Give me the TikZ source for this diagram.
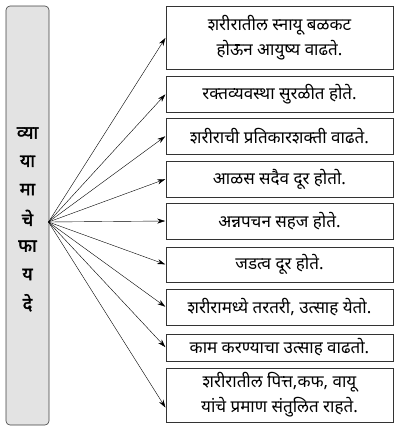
\documentclass[tikz,border=0pt]{standalone}
\usepackage{fontspec}
\newfontfamily\marathi[Script=Devanagari,Language=Marathi]{Noto Sans}
\newfontfamily\marathibold[Script=Devanagari,Language=Marathi,FakeBold=2]{Noto Sans}
\usepackage{tikz}
\usetikzlibrary{arrows.meta,positioning}

\begin{document}
\begin{tikzpicture}[
x=1pt, y=-1pt,
font=\marathi\fontsize{17}{21}\selectfont,
titlebox/.style={draw=black!75, semithick, rounded corners=4pt, fill=gray!22,
  minimum width=43pt, minimum height=419pt},
syllable/.style={font=\marathibold\fontsize{18}{20}\selectfont, inner sep=0pt},
benefit/.style={draw=black!80, semithick, minimum width=227pt, align=center,
  inner sep=1pt},
oneway/.style={-{Stealth[length=8pt,width=5pt]}, thin, shorten >=0.5pt}
]
    % Page size
    \useasboundingbox (0,0) rectangle (403,429);

    % Title column
    \node[titlebox] (title) at (27.5,215.5) {};
    \foreach \s [count=\i from 0] in {व्या,या,मा,चे,फा,य,दे}
        \node[syllable] (syl\i) at (27.5,133+28.3*\i) {\s};
    \coordinate (hub) at (48.5,222);

    % Benefit boxes
    \node[benefit, minimum height=63pt] (b1) at (279.5,37.5)
        {शरीरातील स्नायू बळकट\\[4pt]होऊन आयुष्य वाढते.};
    \node[benefit, minimum height=36pt] (b2) at (279.5,94)
        {रक्तव्यवस्था सुरळीत होते.};
    \node[benefit, minimum height=36pt] (b3) at (279.5,136)
        {शरीराची प्रतिकारशक्ती वाढते.};
    \node[benefit, minimum height=36pt] (b4) at (279.5,179)
        {आळस सदैव दूर होतो.};
    \node[benefit, minimum height=36pt] (b5) at (279.5,221)
        {अन्नपचन सहज होते.};
    \node[benefit, minimum height=35pt] (b6) at (279.5,264.5)
        {जडत्व दूर होते.};
    \node[benefit, minimum height=36pt] (b7) at (279.5,307)
        {शरीरामध्ये तरतरी, उत्साह येतो.};
    \node[benefit, minimum height=27pt] (b8) at (279.5,347.5)
        {काम करण्याचा उत्साह वाढतो.};
    \node[benefit, minimum height=54pt] (b9) at (279.5,395)
        {शरीरातील पित्त,कफ, वायू\\[4pt]यांचे प्रमाण संतुलित राहते.};
    \coordinate (b9in) at ([yshift=-13pt]b9.west);

    % Arrows
    \foreach \b in {b1,b2,b3,b4,b5,b6,b7,b8}
        \draw[oneway] (hub) -- (\b.west);
    \draw[oneway] (hub) -- (b9in);
\end{tikzpicture}
\end{document}
